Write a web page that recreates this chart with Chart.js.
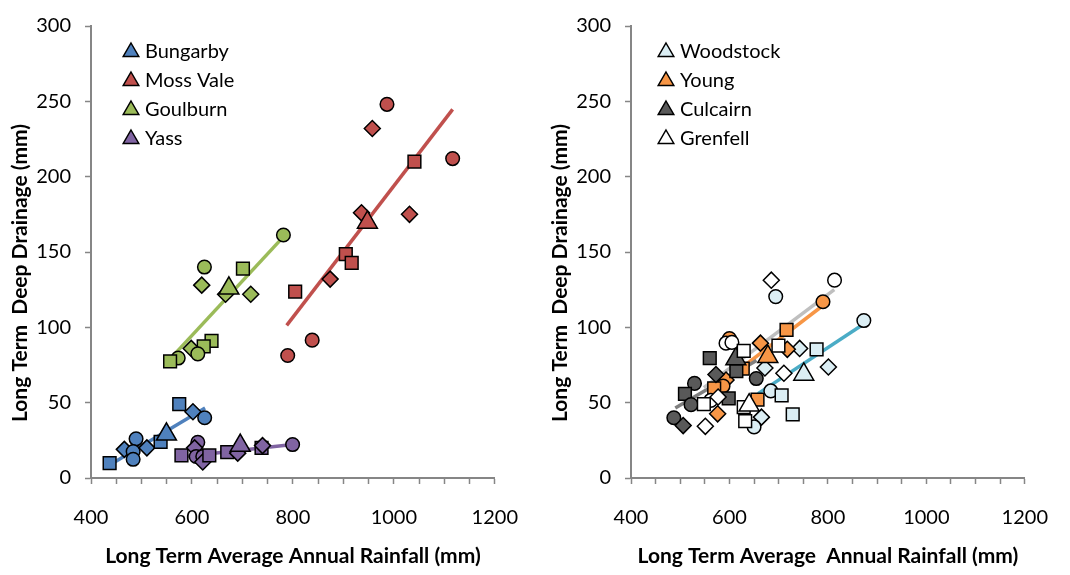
<!DOCTYPE html>
<html lang="en">
<head>
<meta charset="UTF-8" />
<title>Long Term Deep Drainage vs Rainfall</title>
<script src="https://cdn.jsdelivr.net/npm/chart.js"></script>
<style>
  body { margin: 0; background: #fff; }
  .wrap { position: relative; width: 1070px; height: 575px; }
  .panel { position: absolute; top: 0; height: 575px; }
  #left { left: 0; width: 540px; }
  #right { left: 540px; width: 530px; }
</style>
</head>
<body>
<div class="wrap">
  <div class="panel" id="left"><canvas id="chartLeft"></canvas></div>
  <div class="panel" id="right"><canvas id="chartRight"></canvas></div>
</div>
<script>
// shapes: s = square, d = diamond, c = circle
const bungarbyX = [436.9, 466, 489.3, 483.5, 483.5, 510.7, 537.9, 574.8, 602, 625.2];
const bungarbyY = [9.8, 19, 26, 17.6, 12.4, 20, 24, 49, 44, 40];
const bungarbyShape = ['s', 'd', 'c', 'c', 'c', 'd', 's', 's', 'd', 'c'];
const bungarbyAvg = [549.5, 29];
const bungarbyFitX = [442, 626];
const bungarbyFitY = [9.6, 46.5];

const mossValeX = [986.4, 957.3, 1040.8, 1116.5, 935.9, 1031, 904.8, 916.5, 873.8, 804.5, 838.2, 789.7];
const mossValeY = [248, 232, 210, 212, 176, 175, 148.6, 142.8, 132, 123.7, 91.5, 81.3];
const mossValeShape = ['c', 'd', 's', 'c', 'd', 'd', 's', 's', 'd', 's', 'c', 'c'];
const mossValeAvg = [947.6, 169.6];
const mossValeFitX = [787.7, 1116.5];
const mossValeFitY = [101.3, 244.7];

const goulburnX = [781.2, 624.7, 701, 619.4, 666.6, 716.5, 638.8, 623.3, 598.6, 611.6, 572.8, 556.7];
const goulburnY = [161.3, 140, 139, 128, 122, 122, 91, 87.4, 86, 82.4, 79.6, 77.4];
const goulburnShape = ['c', 'c', 's', 'd', 'd', 'd', 's', 's', 'd', 'c', 'c', 's'];
const goulburnAvg = [673.2, 125.9];
const goulburnFitX = [557, 781];
const goulburnFitY = [79.1, 160];

const yassX = [579.2, 611.6, 605.2, 608.3, 621.4, 621.4, 634.4, 669.9, 690.7, 737.9, 739.8, 799.4];
const yassY = [15, 23.7, 20, 14.3, 14.3, 10.6, 15, 17.2, 16.5, 20, 21.5, 22.2];
const yassShape = ['s', 'c', 'd', 'c', 'c', 'd', 's', 's', 'd', 's', 'd', 'c'];
const yassAvg = [695.7, 21.5];
const yassFitX = [585.8, 799.4];
const yassFitY = [14.3, 22.2];

const woodstockX = [694, 873, 742.6, 777, 672, 801, 684, 706, 665, 650, 728.5];
const woodstockY = [120.4, 104.5, 86, 85.4, 73, 73.7, 57.8, 54.8, 40.4, 33.9, 42.2];
const woodstockShape = ['c', 'c', 'd', 's', 'd', 'd', 'c', 's', 'd', 'c', 's'];
const woodstockAvg = [751, 68.7];
const woodstockFitX = [658, 872];
const woodstockFitY = [56, 102];

const youngX = [790, 716, 600, 663, 717.5, 627, 593, 587, 569, 657, 576];
const youngY = [117, 98.3, 92.6, 89.5, 85.4, 72.6, 65, 61, 59.5, 52, 42.6];
const youngShape = ['c', 's', 'c', 'd', 'd', 's', 'd', 'c', 's', 's', 'd'];
const youngAvg = [678, 80.5];
const youngFitX = [572, 788];
const youngFitY = [60, 114];

const culcairnX = [560, 614, 572.6, 654.5, 529, 509.6, 522, 598.5, 487, 506];
const culcairnY = [79.6, 71, 68.7, 66, 62.8, 55.8, 48.7, 52.8, 40, 34.8];
const culcairnShape = ['s', 's', 'd', 'c', 'c', 's', 'c', 's', 'c', 'd'];
const culcairnAvg = [613, 79];
const culcairnFitX = [490, 655];
const culcairnFitY = [46.5, 78];

const grenfellX = [685, 813.5, 593, 605, 629, 699.5, 710.6, 562, 577, 548, 629, 632, 551];
const grenfellY = [131.3, 131.3, 89.5, 90, 84.3, 87.8, 69.5, 51.5, 53.8, 49, 47, 37.8, 34.3];
const grenfellShape = ['d', 'c', 'c', 'c', 's', 's', 'd', 'c', 'd', 's', 's', 's', 'd'];
const grenfellAvg = [640, 48.3];
const grenfellFitX = [548, 813];
const grenfellFitY = [60, 125];

const xTicks = [400, 600, 800, 1000, 1200];
const yTicks = [0, 50, 100, 150, 200, 250, 300];

const styleOf = { s: 'rect', d: 'rectRot', c: 'circle' };
const radiusOf = { s: 9, d: 8, c: 6.8 };

function site(name, xs, ys, shapes, avg, fitX, fitY, fill, lineColor, order) {
    return [
        {
            label: name,
            data: xs.map((x, i) => ({ x: x, y: ys[i] })),
            pointStyle: shapes.map(s => styleOf[s]),
            pointRadius: shapes.map(s => radiusOf[s]),
            backgroundColor: fill,
            borderColor: '#000',
            borderWidth: 1.5,
            showLine: false,
            order: order * 2 + 1
        },
        {
            label: name + ' (average)',
            data: [{ x: avg[0], y: avg[1] }],
            pointStyle: 'triangle',
            pointRadius: 11.5,
            backgroundColor: fill,
            borderColor: '#000',
            borderWidth: 1.5,
            showLine: false,
            order: order * 2
        },
        {
            label: name + ' trend',
            data: fitX.map((x, i) => ({ x: x, y: fitY[i] })),
            showLine: true,
            pointRadius: 0,
            borderColor: lineColor,
            borderWidth: 3.5,
            fill: false,
            order: 100 + order
        }
    ];
}

// y title and legend drawn inside the plot, like the original
const overlay = {
    id: 'overlay',
    afterDraw(chart, args, opts) {
        const ctx = chart.ctx;
        ctx.save();
        ctx.translate(opts.titleX, opts.titleY);
        ctx.rotate(-Math.PI / 2);
        ctx.font = 'bold 21px Lato';
        ctx.fillStyle = '#000';
        ctx.textAlign = 'center';
        ctx.textBaseline = 'middle';
        ctx.fillText(opts.yTitle, 0, 0);
        ctx.restore();

        ctx.save();
        ctx.font = '20px Lato';
        ctx.textBaseline = 'middle';
        opts.items.forEach((it, i) => {
            const cx = opts.legendX, cy = opts.legendY + i * opts.gap, r = 9;
            ctx.beginPath();
            ctx.moveTo(cx, cy - r);
            ctx.lineTo(cx + r * 0.866, cy + r / 2);
            ctx.lineTo(cx - r * 0.866, cy + r / 2);
            ctx.closePath();
            ctx.fillStyle = it.color;
            ctx.fill();
            ctx.lineWidth = 1.5;
            ctx.strokeStyle = '#000';
            ctx.stroke();
            ctx.fillStyle = '#000';
            ctx.fillText(it.name, cx + 14, cy);
        });
        ctx.restore();
    }
};

function scales(xTitle) {
    return {
        x: {
            type: 'linear', min: 400, max: 1200,
            border: { color: '#868686', width: 2 },
            grid: { drawOnChartArea: false, tickLength: 6, tickColor: '#868686', tickWidth: 1.5 },
            ticks: {
                stepSize: 50, autoSkip: false, maxRotation: 0, padding: 22, color: '#000',
                font: { family: 'Lato', size: 20 },
                callback: v => xTicks.includes(v) ? String(v) : ''
            },
            title: {
                display: true, text: xTitle, color: '#000',
                font: { family: 'Lato', size: 21, weight: 'bold' },
                padding: { top: 0, bottom: 6 }
            },
            afterFit: s => { s.height = 97; }
        },
        y: {
            type: 'linear', min: 0, max: 300,
            border: { color: '#868686', width: 2 },
            grid: { drawOnChartArea: false, tickLength: 6, tickColor: '#868686', tickWidth: 1.5 },
            ticks: {
                stepSize: 50, padding: 14, color: '#000',
                font: { family: 'Lato', size: 20 },
                callback: v => yTicks.includes(v) ? String(v) : ''
            },
            afterFit: s => { s.width = 91; }
        }
    };
}

function makeChart(id, datasets, xTitle, items, legendX, rightPad) {
    new Chart(document.getElementById(id), {
        type: 'scatter',
        data: { datasets: datasets },
        options: {
            responsive: true,
            maintainAspectRatio: false,
            animation: false,
            layout: { padding: { top: 20, right: rightPad, left: 0, bottom: 0 } },
            scales: scales(xTitle),
            plugins: {
                legend: { display: false },
                tooltip: { enabled: false },
                overlay: {
                    yTitle: 'Long Term  Deep Drainage (mm)', titleX: 20, titleY: 273,
                    items: items, legendX: legendX, legendY: 52, gap: 29
                }
            }
        },
        plugins: [overlay]
    });
}

makeChart('chartLeft', [].concat(
    site('Bungarby', bungarbyX, bungarbyY, bungarbyShape, bungarbyAvg, bungarbyFitX, bungarbyFitY, '#4F81BD', '#4F81BD', 0),
    site('Moss Vale', mossValeX, mossValeY, mossValeShape, mossValeAvg, mossValeFitX, mossValeFitY, '#C0504D', '#C0504D', 1),
    site('Goulburn', goulburnX, goulburnY, goulburnShape, goulburnAvg, goulburnFitX, goulburnFitY, '#9BBB59', '#9BBB59', 2),
    site('Yass', yassX, yassY, yassShape, yassAvg, yassFitX, yassFitY, '#8064A2', '#8064A2', 3)
), 'Long Term Average Annual Rainfall (mm)', [
    { name: 'Bungarby', color: '#4F81BD' },
    { name: 'Moss Vale', color: '#C0504D' },
    { name: 'Goulburn', color: '#9BBB59' },
    { name: 'Yass', color: '#8064A2' }
], 131, 37);

makeChart('chartRight', [].concat(
    site('Grenfell', grenfellX, grenfellY, grenfellShape, grenfellAvg, grenfellFitX, grenfellFitY, '#FFFFFF', '#BFBFBF', 0),
    site('Culcairn', culcairnX, culcairnY, culcairnShape, culcairnAvg, culcairnFitX, culcairnFitY, '#595959', '#7F7F7F', 1),
    site('Young', youngX, youngY, youngShape, youngAvg, youngFitX, youngFitY, '#F79646', '#F79646', 2),
    site('Woodstock', woodstockX, woodstockY, woodstockShape, woodstockAvg, woodstockFitX, woodstockFitY, '#DBEEF4', '#4BACC6', 3)
), 'Long Term Average  Annual Rainfall (mm)', [
    { name: 'Woodstock', color: '#DBEEF4' },
    { name: 'Young', color: '#F79646' },
    { name: 'Culcairn', color: '#595959' },
    { name: 'Grenfell', color: '#FFFFFF' }
], 126, 26);
</script>
</body>
</html>
